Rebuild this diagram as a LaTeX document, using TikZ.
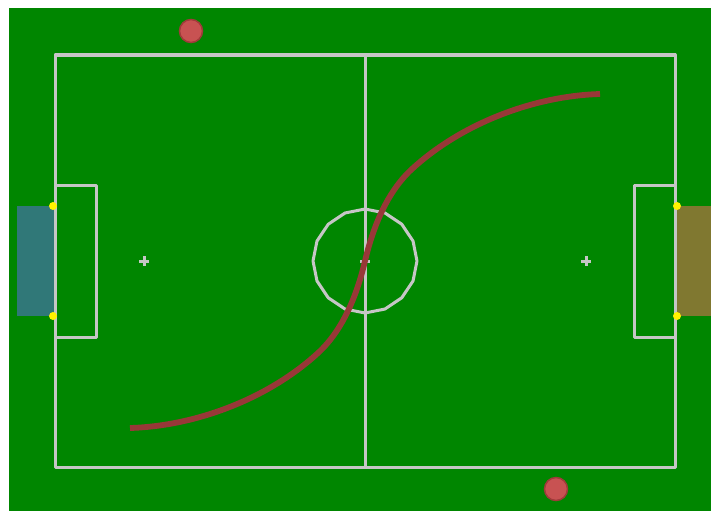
\documentclass[tikz,border=0pt]{standalone}
\usepackage{tikz}
\definecolor{pitch}{HTML}{008600}
\definecolor{chalk}{HTML}{C6C6C6}
\definecolor{goalteal}{HTML}{307878}
\definecolor{goalolive}{HTML}{807830}
\definecolor{pathred}{HTML}{983838}
\definecolor{ballfill}{HTML}{C85252}
\definecolor{balledge}{HTML}{A03A3A}
\tikzset{
  fieldline/.style={draw=chalk,line width=3pt,line join=round},
  spot/.style={draw=chalk,line width=3pt},
  post/.style={fill=yellow,draw=none},
  ball/.style={fill=ballfill,draw=balledge,line width=1.5pt},
  trajectory/.style={draw=pathred,line width=5.8pt}
}
\begin{document}
\begin{tikzpicture}[x=1pt,y=-1pt]
  \useasboundingbox (0,0) rectangle (711,511);
  \fill[white] (0,0) rectangle (711,511);
  \fill[pitch] (9,8) rectangle (711,511);
  % goals
  \fill[goalteal] (17,206) rectangle (54,316);
  \fill[goalolive] (677,206) rectangle (711,316);
  % field markings
  \draw[fieldline] (55,55) rectangle (675,467);
  \draw[fieldline] (365,55) -- (365,467);
  \draw[fieldline] (55,185) -- (96,185) -- (96,337) -- (55,337);
  \draw[fieldline] (675,185) -- (634,185) -- (634,337) -- (675,337);
  \draw[fieldline] plot[samples=17,domain=0:360] ({365+52*cos(\x)},{261+52*sin(\x)}) -- cycle;
  \foreach \px in {144,365,586}
    \draw[spot] (\px-5,261) -- (\px+5,261) (\px,256) -- (\px,266);
  \foreach \gx/\gy in {53/206,53/316,677/206,677/316}
    \fill[post] (\gx,\gy) circle (4);
  % path of the ball
  \draw[trajectory] (130,428) .. controls (197,426) and (269,398) .. (318,353)
    .. controls (343,330) and (357,295) .. (365,261)
    .. controls (373,227) and (387,192) .. (412,169)
    .. controls (461,124) and (533,96) .. (600,94);
  % balls
  \draw[ball] (191,31) circle (11.5);
  \draw[ball] (556,489) circle (11.5);
\end{tikzpicture}
\end{document}
